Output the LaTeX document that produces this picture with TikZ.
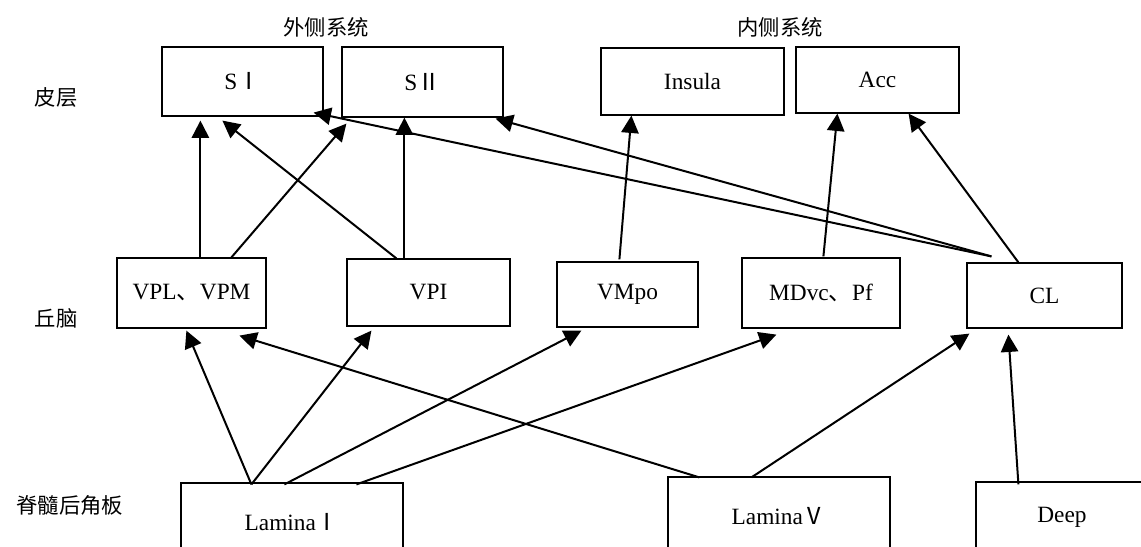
\documentclass[tikz,border=0pt]{standalone}
\usepackage{fontspec}
\setmainfont{Liberation Serif}
\newfontfamily\cjk{Noto Sans CJK SC}
\usetikzlibrary{arrows.meta,calc}
\begin{document}
\begin{tikzpicture}[x=0.75pt,y=-0.75pt,
  box/.style={draw,line width=0.9pt,inner sep=0pt,font=\fontsize{17.5}{20}\selectfont},
  lab/.style={inner sep=0pt,font=\cjk\fontsize{16}{20}\selectfont},
  arr/.style={line width=1.5pt,-{Triangle[length=13pt,width=13pt]}}]
\fill[white] (0,0) rectangle (1141,546);
\clip (0,0) rectangle (1141,546);
% headings and row labels
\node[lab] (ext) at (326,27) {外侧系统};
\node[lab] (med) at (780,27) {内侧系统};
\node[lab] (cortex) at (56,97) {皮层};
\node[lab] (thal) at (56,318) {丘脑};
\node[lab] (spinal) at (70,505) {脊髓后角板};
% cortex
\node[box,minimum width=161*0.75pt,minimum height=69*0.75pt] (si) at (242.5,81.5) {S{\cjk Ⅰ}};
\node[box,minimum width=161*0.75pt,minimum height=70*0.75pt] (sii) at (422.5,82) {S{\cjk Ⅱ}};
\node[box,minimum width=183*0.75pt,minimum height=67*0.75pt] (ins) at (692.5,81.5) {Insula};
\node[box,minimum width=163*0.75pt,minimum height=66*0.75pt] (acc) at (877.5,80) {Acc};
% thalamus
\node[box,minimum width=149*0.75pt,minimum height=70*0.75pt] (vpl) at (191.5,293) {VPL{\cjk 、}VPM};
\node[box,minimum width=163*0.75pt,minimum height=67*0.75pt] (vpi) at (428.5,292.5) {VPI};
\node[box,minimum width=141*0.75pt,minimum height=65*0.75pt] (vmpo) at (627.5,294.5) {VMpo};
\node[box,minimum width=158*0.75pt,minimum height=70*0.75pt] (md) at (821,293) {MDvc{\cjk 、}Pf};
\node[box,minimum width=155*0.75pt,minimum height=65*0.75pt] (cl) at (1044.5,295.5) {CL};
% spinal
\node[box,minimum width=222*0.75pt,minimum height=78*0.75pt] (l1) at (292,522) {Lamina{\cjk Ⅰ}};
\node[box,minimum width=222*0.75pt,minimum height=78*0.75pt] (l5) at (779,516) {Lamina{\cjk Ⅴ}};
\node[box,minimum width=172*0.75pt,minimum height=70*0.75pt] (deep) at (1062,517) {Deep};
% thalamus -> cortex
\draw[arr] ($(vpl.north west)+(84,0)$) -- ($(si.south west)+(39,4)$);
\draw[arr] ($(vpl.north west)+(115,0)$) -- ($(sii.south west)+(5,6)$);
\draw[arr] ($(vpi.north west)+(50,0)$) -- ($(si.south west)+(61,4)$);
\draw[arr] ($(vpi.north west)+(58,0)$) -- ($(sii.south west)+(63,0)$);
\draw[arr] ($(cl.north west)+(25,-6)$) -- ($(si.south east)+(-10,-4)$);
\draw[arr] ($(cl.north west)+(25,-6)$) -- ($(sii.south east)+(-8,1)$);
\draw[arr] ($(vmpo.north west)+(63,-2)$) -- ($(ins.south west)+(31,0)$);
\draw[arr] ($(md.north west)+(82,-1)$) -- ($(acc.south west)+(42,0)$);
\draw[arr] ($(cl.north west)+(52,0)$) -- ($(acc.south east)+(-51,0)$);
% spinal -> thalamus
\draw[arr] ($(l1.north west)+(71,2)$) -- ($(vpl.south west)+(70,2)$);
\draw[arr] ($(l1.north west)+(71,2)$) -- ($(vpi.south west)+(25,4)$);
\draw[arr] ($(l1.north west)+(104,2)$) -- ($(vmpo.south west)+(25,3)$);
\draw[arr] ($(l1.north west)+(176,2)$) -- ($(md.south west)+(35,6)$);
\draw[arr] ($(l5.north west)+(32,1)$) -- ($(vpl.south west)+(123,7)$);
\draw[arr] ($(l5.north west)+(84,1)$) -- ($(cl.south west)+(3,5)$);
\draw[arr] ($(deep.north west)+(43,3)$) -- ($(cl.south west)+(42,6)$);
\end{tikzpicture}
\end{document}
